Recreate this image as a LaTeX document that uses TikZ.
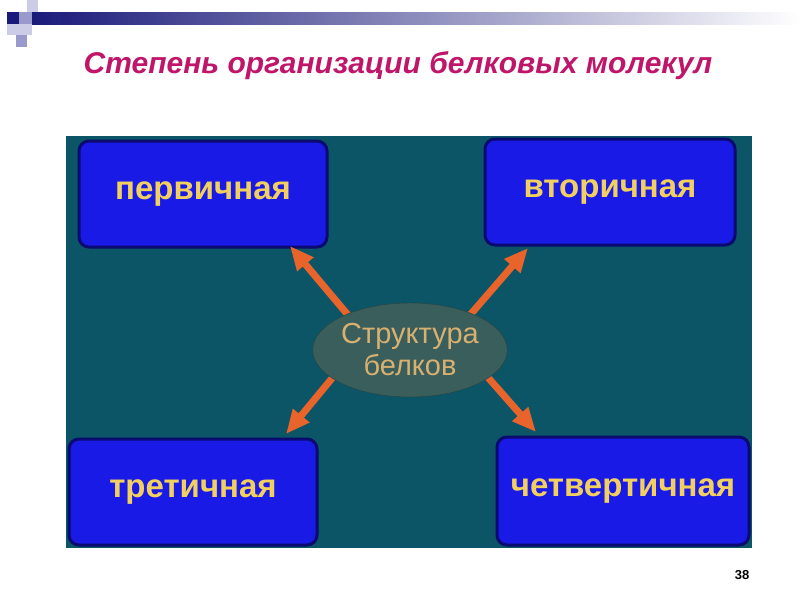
\documentclass[tikz,border=0pt]{standalone}
\usepackage{fontspec}
\setmainfont{Liberation Sans}
\usetikzlibrary{arrows.meta,shapes.geometric}
\definecolor{navy}{HTML}{1A1A7A}
\definecolor{lav}{HTML}{9999CC}
\definecolor{lav2}{HTML}{CCCCE6}
\definecolor{ttl}{HTML}{C0166A}
\definecolor{teal}{HTML}{0B5566}
\definecolor{boxb}{HTML}{1A1AE6}
\definecolor{boxd}{HTML}{0A0A70}
\definecolor{ytxt}{HTML}{F2D060}
\definecolor{ell}{HTML}{3A5E5C}
\definecolor{tan}{HTML}{D8B070}
\definecolor{arr}{HTML}{E8642A}
\tikzset{lvl/.style={draw=boxd,line width=3pt,fill=boxb,rounded corners=10pt,text=ytxt,font=\bfseries\fontsize{33}{36}\selectfont},
arrw/.style={draw=arr,line width=7pt,-{Triangle[length=24pt,width=20pt]}}}
\begin{document}
\begin{tikzpicture}[x=1pt,y=-1pt]
\useasboundingbox (0,0) rectangle (800,600);
\fill[white] (0,0) rectangle (800,600);
\shade[left color=navy,right color=white] (32,12) rectangle (800,24);
\fill[lav2] (27,0) rectangle (38,12);
\fill[navy] (7,12) rectangle (19,24);
\fill[lav] (19,12) rectangle (32,24);
\fill[lav2] (7,24) rectangle (32,35);
\fill[lav] (16,35) rectangle (27,47);
\node[text=ttl,font=\bfseries\itshape\fontsize{30}{34}\selectfont] (title) at (398,66) {Степень организации белковых молекул};
\fill[teal] (66,136) rectangle (752,548);
\node[lvl,minimum width=248pt,minimum height=106pt] (p) at (203,194) {первичная};
\node[lvl,minimum width=250pt,minimum height=106pt] (v) at (610,192) {вторичная};
\node[lvl,minimum width=248pt,minimum height=106pt] (t) at (193,492) {третичная};
\node[lvl,minimum width=252pt,minimum height=108pt] (c) at (623,491) {четвертичная};
\coordinate (ap) at (290,246); \coordinate (av) at (528,248);
\coordinate (at) at (286,434); \coordinate (ac) at (536,432);
\coordinate (sp) at (348,315); \coordinate (sv) at (470,315);
\coordinate (st) at (343,365); \coordinate (sc) at (477,365);
\draw[arrw] (sp) -- (ap);
\draw[arrw] (sv) -- (av);
\draw[arrw] (st) -- (at);
\draw[arrw] (sc) -- (ac);
\node[ellipse,fill=ell,draw=ell!70!black,minimum width=190pt,minimum height=94pt,inner sep=0pt,align=center,text=tan,font=\fontsize{29}{32}\selectfont] (s) at (410,350) {Структура\\белков};
\node[font=\bfseries\fontsize{13}{15}\selectfont] (n) at (742,575) {38};
\end{tikzpicture}
\end{document}
